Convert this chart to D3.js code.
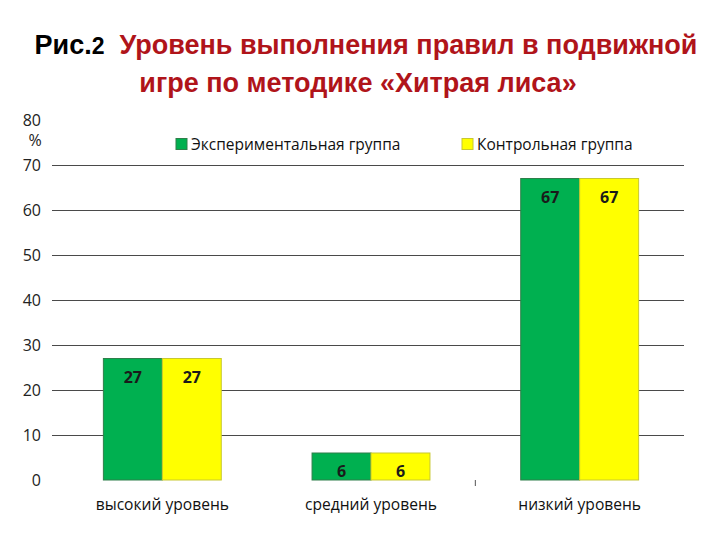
<!DOCTYPE html>
<html><head><meta charset="utf-8">
<script src="https://cdn.jsdelivr.net/npm/d3@7"></script>
<style>body{margin:0;background:#fff}</style>
</head><body>
<svg id="c" width="720" height="540"></svg>
<script>
const categories = ["высокий уровень", "средний уровень", "низкий уровень"];
const seriesNames = ["Экспериментальная группа", "Контрольная группа"];
const experimental = [27, 6, 67];
const control = [27, 6, 67];
const yTicks = [0, 10, 20, 30, 40, 50, 60, 70, 80];
const colors = ["#00B050", "#FFFF00"];
const strokes = ["#2f7f4a", "#c8c830"];

const svg = d3.select("#c");
const fontAxis = "'Open Sans','Noto Sans',sans-serif";
const fontTitle = "'Liberation Sans',Arial,sans-serif";

// title
const t1 = svg.append("text").attr("x", 366).attr("y", 54).attr("text-anchor","middle")
  .style("white-space","pre")
  .attr("font-family", fontTitle).attr("font-weight","bold").attr("font-size", 27);
t1.append("tspan").attr("fill","#000").text("Рис.");
t1.append("tspan").attr("fill","#000").attr("font-size",23).text("2");
t1.append("tspan").attr("fill","#B0141A").text("  Уровень выполнения правил в подвижной");
svg.append("text").attr("x", 358).attr("y", 92).attr("text-anchor","middle")
  .attr("font-family", fontTitle).attr("font-weight","bold").attr("font-size", 27)
  .attr("fill","#B0141A").text("игре по методике «Хитрая лиса»");

const y = d3.scaleLinear().domain([0, 80]).range([480, 120]);
const x = d3.scaleBand().domain(categories).range([58, 684]).paddingInner(0.435).paddingOuter(0.2175);
const xs = d3.scaleBand().domain([0,1]).range([0, x.bandwidth()]);

// gridlines
svg.append("g").selectAll("line").data(yTicks.filter(d => d > 0 && d < 80)).join("line")
  .attr("x1", 52).attr("x2", 684).attr("y1", d => y(d) + 0.5).attr("y2", d => y(d) + 0.5)
  .attr("stroke", "#4a4a4a").attr("stroke-width", 1);

// y axis labels
const yAxis = d3.axisLeft(y).tickValues(yTicks).tickSize(0).tickPadding(0);
const gy = svg.append("g").attr("transform","translate(41,0)").call(yAxis);
gy.select(".domain").remove();
gy.selectAll("text").attr("font-family", fontAxis).attr("font-size", 16).attr("fill","#222").attr("dy","0.35em");
svg.append("text").attr("x", 35).attr("y", 146).attr("text-anchor","middle")
  .attr("font-family", fontAxis).attr("font-size", 16).attr("fill","#222").text("%");

// bars
const series = [experimental, control];
const g = svg.append("g");
series.forEach((vals, si) => {
  g.append("g").selectAll("rect").data(vals).join("rect")
    .attr("x", (d,i) => x(categories[i]) + xs(si))
    .attr("y", d => y(d))
    .attr("width", xs.bandwidth())
    .attr("height", d => y(0) - y(d))
    .attr("fill", colors[si]).attr("stroke", strokes[si]).attr("stroke-width", 1);
  g.append("g").selectAll("text").data(vals).join("text")
    .attr("x", (d,i) => x(categories[i]) + xs(si) + xs.bandwidth()/2)
    .attr("y", d => y(d) + 24)
    .attr("text-anchor","middle").attr("font-family", fontAxis).attr("font-weight","bold")
    .attr("font-size", 16).attr("fill","#1a1a1a").text(d => d);
});

// x axis labels
const xAxis = d3.axisBottom(x).tickSize(0).tickPadding(0);
const gx = svg.append("g").attr("transform","translate(0,498)").call(xAxis);
gx.select(".domain").remove();
gx.selectAll("text").attr("font-family", fontAxis).attr("font-size", 15.6).attr("fill","#111").attr("dy","0.75em");
// small category divider tick
const mid = (x(categories[1]) + x(categories[2]) + x.bandwidth()) / 2;
svg.append("line").attr("x1", mid).attr("x2", mid).attr("y1", 480).attr("y2", 486)
  .attr("stroke","#555").attr("stroke-width",1);

// legend
const legX = [176, 462];
seriesNames.forEach((n, i) => {
  svg.append("rect").attr("x", legX[i]).attr("y", 138.5).attr("width", 11).attr("height", 11)
    .attr("fill", colors[i]).attr("stroke", strokes[i]);
  svg.append("text").attr("x", legX[i] + 15).attr("y", 150)
    .attr("font-family", fontAxis).attr("font-size", 15.5).attr("fill","#111").text(n);
});
</script>
</body></html>
